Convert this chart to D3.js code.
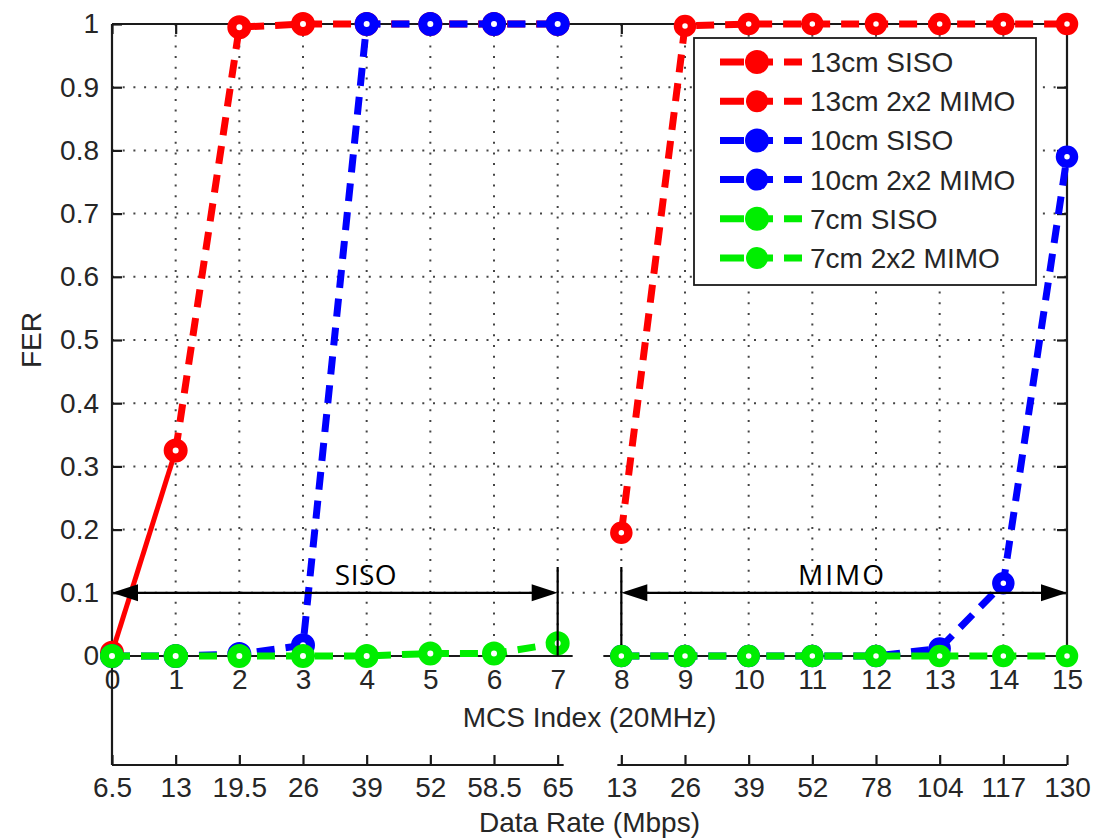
<!DOCTYPE html>
<html>
<head>
<meta charset="utf-8">
<script src="https://cdn.jsdelivr.net/npm/d3@7"></script>
<style>
  html, body { margin: 0; padding: 0; background: #fff; }
  svg { display: block; }
  text { font-family: "Liberation Sans", Arial, sans-serif; fill: #262626; }
</style>
</head>
<body>
<svg id="chart" width="1094" height="839"></svg>
<script>
// ---- data ----
const mcsIndex = [0, 1, 2, 3, 4, 5, 6, 7, 8, 9, 10, 11, 12, 13, 14, 15];
const mcsLabels = ["0","1","2","3","4","5","6","7","8","9","10","11","12","13","14","15"];
const dataRateLabels = ["6.5","13","19.5","26","39","52","58.5","65","13","26","39","52","78","104","117","130"];
const ferTicks = [0, 0.1, 0.2, 0.3, 0.4, 0.5, 0.6, 0.7, 0.8, 0.9, 1];
const ferTickLabels = ["0","0.1","0.2","0.3","0.4","0.5","0.6","0.7","0.8","0.9","1"];

const sisoMcs = [0, 1, 2, 3, 4, 5, 6, 7];
const mimoMcs = [8, 9, 10, 11, 12, 13, 14, 15];

const fer13cmSiso = [0.005, 0.325, 0.995, 1, 1, 1, 1, 1];
const fer13cmMimo = [0.195, 0.997, 1, 1, 1, 1, 1, 1];
const fer10cmSiso = [0, 0, 0.003, 0.017, 1, 1, 1, 1];
const fer10cmMimo = [0, 0, 0, 0, 0, 0.012, 0.115, 0.79];
const fer7cmSiso  = [0, 0, 0, 0, 0, 0.004, 0.004, 0.02];
const fer7cmMimo  = [0, 0, 0, 0, 0, 0, 0, 0];

const seriesNames = ["13cm SISO", "13cm 2x2 MIMO", "10cm SISO", "10cm 2x2 MIMO", "7cm SISO", "7cm 2x2 MIMO"];
const seriesColors = ["#ff0000", "#ff0000", "#0000ff", "#0000ff", "#00ee00", "#00ee00"];
const seriesX = [sisoMcs, mimoMcs, sisoMcs, mimoMcs, sisoMcs, mimoMcs];
const seriesY = [fer13cmSiso, fer13cmMimo, fer10cmSiso, fer10cmMimo, fer7cmSiso, fer7cmMimo];
const seriesKind = ["siso", "mimo", "siso", "mimo", "siso", "mimo"];

const regionLabels = ["SISO", "MIMO"];
const regionRanges = [[0, 7], [8, 15]];
const arrowLevel = 0.1;

// ---- layout ----
const svg = d3.select("#chart");
const L = 112, R = 1067, T = 24, B = 656, B2 = 765;
const x = d3.scaleLinear().domain([0, 15]).range([L, R]);
const y = d3.scaleLinear().domain([0, 1]).range([B, T]);
const axisColor = "#1a1a1a";
const FS = "28px";

// grid
const grid = svg.append("g");
grid.selectAll("line.vg").data(mcsIndex.filter(d => d > 0 && d < 15)).join("line")
  .attr("x1", d => x(d)).attr("x2", d => x(d)).attr("y1", T).attr("y2", B)
  .attr("stroke", "#444").attr("stroke-width", 2).attr("stroke-dasharray", "2,8.7");
grid.selectAll("line.hg").data(ferTicks.filter(d => d > 0 && d < 1)).join("line")
  .attr("x1", L).attr("x2", R).attr("y1", d => y(d)).attr("y2", d => y(d))
  .attr("stroke", "#444").attr("stroke-width", 2).attr("stroke-dasharray", "2,8.7");

// axes via d3
const fmtY = d => ferTickLabels[ferTicks.indexOf(d)];
const yAxisL = svg.append("g").attr("transform", `translate(${L},0)`)
  .call(d3.axisLeft(y).tickValues(ferTicks).tickSize(-10).tickPadding(13).tickFormat(fmtY));
const yAxisR = svg.append("g").attr("transform", `translate(${R},0)`)
  .call(d3.axisRight(y).tickValues(ferTicks).tickSize(-10).tickFormat(""));
const xAxisB = svg.append("g").attr("transform", `translate(0,${B})`)
  .call(d3.axisBottom(x).tickValues(mcsIndex).tickSize(-10).tickPadding(14).tickFormat(d => mcsLabels[d]));
const xAxisT = svg.append("g").attr("transform", `translate(0,${T})`)
  .call(d3.axisTop(x).tickValues(mcsIndex).tickSize(-10).tickFormat(""));
const xAxis2 = svg.append("g").attr("transform", `translate(0,${B2})`)
  .call(d3.axisBottom(x).tickValues(mcsIndex).tickSize(-10).tickPadding(14).tickFormat(d => dataRateLabels[d]));

[yAxisL, yAxisR, xAxisB, xAxisT, xAxis2].forEach(g => {
  g.selectAll(".domain").remove();
  g.selectAll(".tick line").attr("stroke", axisColor).attr("stroke-width", 2.2);
  g.selectAll(".tick text").style("font-size", FS).attr("fill", "#262626")
    .style("font-family", '"Liberation Sans", Arial, sans-serif');
});
xAxisB.selectAll(".tick text").attr("y", 13);
xAxis2.selectAll(".tick text").attr("y", 12);

// frame lines
const frame = [[L, T, L, B2], [R, T, R, B], [L, T, R, T], [L, B, R, B], [L, B2, R, B2]];
svg.selectAll("line.frame").data(frame).join("line")
  .attr("x1", d => d[0]).attr("y1", d => d[1]).attr("x2", d => d[2]).attr("y2", d => d[3])
  .attr("stroke", axisColor).attr("stroke-width", 2.2);

// axis breaks (white gaps between SISO and MIMO parts)
svg.append("rect").attr("x", x(7) + 15).attr("y", B - 3).attr("width", x(8) - x(7) - 33).attr("height", 6).attr("fill", "#fff");
svg.append("rect").attr("x", x(7) + 6).attr("y", B2 - 3).attr("width", x(8) - x(7) - 10).attr("height", 6).attr("fill", "#fff");

// axis titles
svg.append("text").attr("x", (L + R) / 2).attr("y", 717).attr("dy", "0.35em").attr("text-anchor", "middle")
  .style("font-size", FS).text("MCS Index (20MHz)");
svg.append("text").attr("x", (L + R) / 2).attr("y", 822).attr("dy", "0.35em").attr("text-anchor", "middle")
  .style("font-size", FS).text("Data Rate (Mbps)");
svg.append("text").attr("transform", `translate(31,${(T + B) / 2}) rotate(-90)`).attr("dy", "0.35em")
  .attr("text-anchor", "middle").style("font-size", FS).text("FER");

// series
const line = d3.line().x(d => x(d[0])).y(d => y(d[1]));
const dataG = svg.append("g");
seriesNames.forEach((name, i) => {
  const pts = seriesX[i].map((xv, j) => [xv, seriesY[i][j]]);
  if (i === 0) {
    // first segment of 13cm SISO is drawn as a thinner solid line in the original
    dataG.append("path").datum(pts.slice(0, 2)).attr("d", line).attr("fill", "none")
      .attr("stroke", seriesColors[i]).attr("stroke-width", 5);
    dataG.append("path").datum(pts.slice(1)).attr("d", line).attr("fill", "none")
      .attr("stroke", seriesColors[i]).attr("stroke-width", 7).attr("stroke-dasharray", "18,11");
  } else {
    dataG.append("path").datum(pts).attr("d", line).attr("fill", "none")
      .attr("stroke", seriesColors[i]).attr("stroke-width", 7)
      .attr("stroke-dasharray", "18,11");
  }
  dataG.selectAll(null).data(pts).join("circle")
    .attr("cx", d => x(d[0])).attr("cy", d => y(d[1]))
    .attr("r", seriesKind[i] === "siso" ? 7.5 : 7)
    .attr("fill", "#fff").attr("stroke", seriesColors[i])
    .attr("stroke-width", seriesKind[i] === "siso" ? 9 : 8.5);
});

// SISO / MIMO range annotations
const ann = svg.append("g");
const ay = y(arrowLevel);
const head = 26, hh = 8.5;
regionRanges.forEach((r, k) => {
  const x0 = x(r[0]), x1 = x(r[1]);
  ann.append("line").attr("x1", x0 + 4).attr("x2", x1 - 4).attr("y1", ay).attr("y2", ay)
    .attr("stroke", "#000").attr("stroke-width", 2.2);
  ann.append("path").attr("d", `M${x0},${ay} L${x0 + head},${ay - hh} L${x0 + head},${ay + hh} Z`).attr("fill", "#000");
  ann.append("path").attr("d", `M${x1},${ay} L${x1 - head},${ay - hh} L${x1 - head},${ay + hh} Z`).attr("fill", "#000");
  ann.append("text").attr("x", k === 0 ? 366 : 842).attr("y", ay - 8)
    .attr("text-anchor", "middle").style("font-family", '"Open Sans", sans-serif')
    .style("font-size", "28px").style("letter-spacing", k === 0 ? "0.5px" : "2px")
    .style("fill", "#000").text(regionLabels[k]);
});
ann.append("line").attr("x1", x(7)).attr("x2", x(7)).attr("y1", 567).attr("y2", B).attr("stroke", "#000").attr("stroke-width", 2.2);
ann.append("line").attr("x1", x(8)).attr("x2", x(8)).attr("y1", 567).attr("y2", 645).attr("stroke", "#000").attr("stroke-width", 2.2);

// legend
const lg = svg.append("g");
lg.append("rect").attr("x", 694).attr("y", 38).attr("width", 342).attr("height", 247)
  .attr("fill", "#fff").attr("stroke", "#1a1a1a").attr("stroke-width", 1.8);
seriesNames.forEach((name, i) => {
  const cy = 62 + i * 39.2;
  lg.append("line").attr("x1", 720).attr("x2", 802).attr("y1", cy).attr("y2", cy)
    .attr("stroke", seriesColors[i]).attr("stroke-width", 7).attr("stroke-dasharray", "24,11,18,11");
  lg.append("circle").attr("cx", 757).attr("cy", cy).attr("r", seriesKind[i] === "siso" ? 12 : 11)
    .attr("fill", seriesColors[i]);
  lg.append("text").attr("x", 810).attr("y", cy).attr("dy", "0.36em")
    .style("font-size", FS).text(name);
});
</script>
</body>
</html>
